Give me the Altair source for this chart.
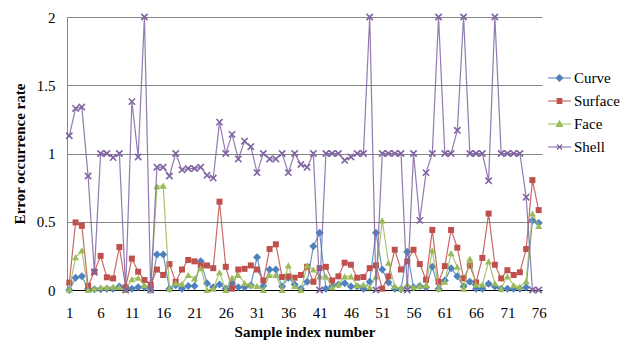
import altair as alt
import pandas as pd

samples = list(range(1, 77))

curve = [0.0, 0.09, 0.10, 0.01, 0.005, 0.005, 0.01, 0.01, 0.025, 0.02,
         0.01, 0.02, 0.02, 0.0, 0.26, 0.26, 0.01, 0.035, 0.01, 0.03,
         0.03, 0.21, 0.05, 0.02, 0.04, 0.01, 0.05, 0.02, 0.02, 0.035,
         0.24, 0.03, 0.15, 0.15, 0.025, 0.09, 0.04, 0.01, 0.06, 0.32,
         0.42, 0.01, 0.03, 0.04, 0.05, 0.025, 0.025, 0.01, 0.06, 0.42,
         0.15, 0.055, 0.01, 0.005, 0.28, 0.02, 0.03, 0.02, 0.17, 0.01,
         0.07, 0.16, 0.10, 0.025, 0.06, 0.01, 0.01, 0.045, 0.025, 0.01,
         0.01, 0.01, 0.01, 0.02, 0.51, 0.49]

surface = [0.054, 0.495, 0.47, 0.03, 0.134, 0.25, 0.093, 0.085, 0.315, 0.02,
           0.23, 0.134, 0.073, 0.04, 0.15, 0.11, 0.19, 0.06, 0.15, 0.22,
           0.21, 0.18, 0.18, 0.16, 0.647, 0.17, 0.01, 0.15, 0.155, 0.18,
           0.15, 0.07, 0.30, 0.335, 0.095, 0.10, 0.09, 0.11, 0.17, 0.06,
           0.16, 0.17, 0.07, 0.10, 0.20, 0.185, 0.09, 0.095, 0.16, 0.18,
           0.01, 0.10, 0.295, 0.15, 0.21, 0.295, 0.19, 0.075, 0.44, 0.06,
           0.175, 0.44, 0.31, 0.085, 0.18, 0.055, 0.235, 0.56, 0.185, 0.085,
           0.145, 0.11, 0.13, 0.30, 0.805, 0.585]

face = [0.005, 0.24, 0.29, 0.0, 0.01, 0.02, 0.02, 0.025, 0.02, 0.0,
        0.08, 0.09, 0.035, 0.0, 0.76, 0.765, 0.01, 0.05, 0.045, 0.11,
        0.085, 0.16, 0.0, 0.01, 0.13, 0.0, 0.09, 0.11, 0.05, 0.035,
        0.03, 0.0, 0.11, 0.11, 0.0, 0.18, 0.03, 0.0, 0.18, 0.15,
        0.10, 0.10, 0.02, 0.04, 0.10, 0.10, 0.035, 0.04, 0.02, 0.10,
        0.51, 0.20, 0.03, 0.01, 0.04, 0.02, 0.03, 0.035, 0.29, 0.01,
        0.06, 0.27, 0.17, 0.01, 0.23, 0.04, 0.04, 0.21, 0.05, 0.01,
        0.10, 0.035, 0.025, 0.065, 0.56, 0.47]

shell = [1.13, 1.33, 1.34, 0.835, 0.13, 1.0, 1.0, 0.97, 1.0, 0.0,
         1.38, 0.975, 2.0, 0.0, 0.9, 0.9, 0.835, 1.0, 0.88, 0.89,
         0.89, 0.9, 0.84, 0.82, 1.23, 1.0, 1.14, 0.96, 1.09, 1.05,
         0.86, 1.0, 0.96, 0.96, 1.0, 0.86, 1.0, 0.92, 0.9, 1.0,
         0.0, 1.0, 1.0, 1.0, 0.95, 0.975, 1.0, 1.0, 2.0, 0.0,
         1.0, 1.0, 1.0, 1.0, 0.0, 1.0, 0.51, 0.86, 1.0, 2.0,
         1.0, 1.0, 1.17, 2.0, 1.0, 1.0, 1.0, 0.8, 2.0, 1.0,
         1.0, 1.0, 1.0, 0.68, 0.0, 0.0]

series_names = ["Curve", "Surface", "Face", "Shell"]
series_colors = ["#4F81BD", "#C0504D", "#9BBB59", "#8064A2"]
x_ticks = list(range(1, 77, 5))
y_ticks = [0, 0.5, 1, 1.5, 2]

rows = []
for name, vals in zip(series_names, [curve, surface, face, shell]):
    for s, v in zip(samples, vals):
        rows.append({"sample": s, "value": v, "series": name})
df = pd.DataFrame(rows)

FONT = "Times New Roman, Liberation Serif, DejaVu Serif, serif"
W, H = 475, 273

x_enc = alt.X(
    "sample:Q",
    scale=alt.Scale(domain=[0.63, 76.53], nice=False, zero=False),
    axis=alt.Axis(
        values=x_ticks, format="d", title="Sample index number", grid=False,
        ticks=False, tickSize=0, labelPadding=15, domainColor="#000000",
        titleX=W / 2, titleY=46.5, titleAlign="center", titleBaseline="alphabetic",
        labelFlush=False, labelFont=FONT, titleFont=FONT,
    ),
)
y_enc = alt.Y(
    "value:Q",
    scale=alt.Scale(domain=[0, 2], nice=False),
    axis=alt.Axis(
        values=y_ticks, labelExpr="datum.value", title="Error occurrence rate",
        grid=True, gridColor="#868686", gridWidth=1, ticks=False, tickSize=0,
        labelPadding=12, domainColor="#868686", labelFont=FONT, titleFont=FONT,
        titleX=-48, titleY=H / 2, titleAngle=270, titleAlign="center", titleBaseline="middle",
    ),
)

marker_specs = {
    "Curve": dict(shape="diamond", size=64, filled=True),
    "Surface": dict(shape="square", size=36, filled=True),
    "Face": dict(shape="triangle-up", size=50, filled=True),
    "Shell": dict(shape="M-1,-1L1,1M-1,1L1,-1", size=40, filled=False, strokeWidth=1.6),
}

layers = []
for name, color in zip(series_names, series_colors):
    base = alt.Chart(df).transform_filter(alt.datum.series == name)
    line = base.mark_line(color=color, strokeWidth=1.2, opacity=0.85).encode(x=x_enc, y=y_enc)
    pts = base.mark_point(color=color, opacity=1, **marker_specs[name]).encode(x=x_enc, y=y_enc)
    layers += [line, pts]

legend_paths = [
    "M-1,0L1,0M-0.28,0L0,-0.28L0.28,0L0,0.28Z",
    "M-1,0L1,0M-0.2,-0.2L0.2,-0.2L0.2,0.2L-0.2,0.2Z",
    "M-1,0L1,0M0,-0.26L0.26,0.2L-0.26,0.2Z",
    "M-1,0L1,0M-0.22,-0.22L0.22,0.22M-0.22,0.22L0.22,-0.22",
]

def make_legend():
    return alt.Legend(
        title=None, orient="none", legendX=480, legendY=48.5, padding=0,
        symbolSize=529, symbolStrokeWidth=1.2, symbolOpacity=1,
        labelFont=FONT, labelFontSize=15, labelColor="#000000", labelOffset=2,
        rowPadding=2,
    )

legend_layer = alt.Chart(df).transform_filter("datum.value < 0").mark_point(filled=True).encode(
    fill=alt.Fill("series:N", scale=alt.Scale(domain=series_names, range=series_colors), legend=make_legend()),
    stroke=alt.Stroke("series:N", scale=alt.Scale(domain=series_names, range=series_colors), legend=make_legend()),
    shape=alt.Shape("series:N", scale=alt.Scale(domain=series_names, range=legend_paths), legend=make_legend()),
)

chart = alt.layer(*layers, legend_layer).properties(
    width=W, height=H,
    autosize=alt.AutoSizeParams(type="none"),
    padding={"left": 59, "top": 9, "right": 79, "bottom": 50},
    background="white",
).configure(
    font=FONT,
).configure_axis(
    labelFont=FONT, labelFontSize=15, labelColor="#000000",
    titleFont=FONT, titleFontSize=15, titleFontWeight="bold", titleColor="#000000",
).configure_legend(
    labelFont=FONT, labelFontSize=15, labelColor="#000000",
).configure_view(stroke=None)

chart.save("out.html", embed_options={"renderer": "svg", "actions": False})
